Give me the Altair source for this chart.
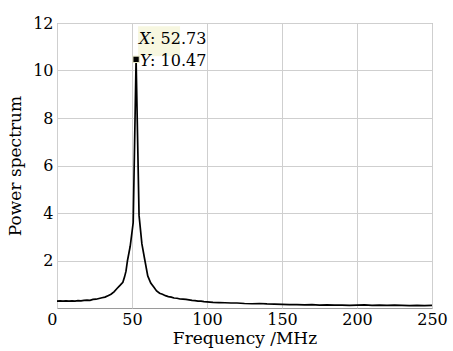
import altair as alt
import pandas as pd

freq = [0, 2, 4, 6, 8, 10, 12, 14, 16, 18, 20, 22, 24, 26, 28, 30, 32, 34, 36, 38,
        40, 42, 43.9, 45, 46, 47, 48.8, 50.8, 52.73, 54.7, 56.6, 58.6, 60.5, 62.5,
        64.5, 66.4, 68.4, 70.3, 72.3, 74.2, 76.2, 78, 80, 82, 84, 86, 88, 90, 92, 94,
        96, 98, 100, 104, 108, 112, 116, 120, 125, 130, 135, 140, 145, 150, 155, 160,
        165, 170, 175, 180, 185, 190, 195, 200, 205, 210, 215, 220, 225, 230, 235,
        240, 245, 250]
power = [0.29, 0.30, 0.29, 0.30, 0.29, 0.30, 0.29, 0.31, 0.30, 0.32, 0.33, 0.32, 0.36,
         0.37, 0.40, 0.43, 0.46, 0.52, 0.58, 0.68, 0.82, 0.95, 1.08, 1.30, 1.55, 2.00,
         2.60, 3.60, 10.47, 3.90, 2.70, 2.00, 1.35, 1.05, 0.88, 0.72, 0.62, 0.58, 0.52,
         0.48, 0.46, 0.42, 0.41, 0.38, 0.37, 0.36, 0.34, 0.32, 0.31, 0.29, 0.29, 0.27,
         0.26, 0.24, 0.23, 0.22, 0.21, 0.21, 0.19, 0.18, 0.19, 0.17, 0.16, 0.15, 0.14,
         0.14, 0.13, 0.14, 0.12, 0.13, 0.12, 0.12, 0.11, 0.12, 0.13, 0.11, 0.12, 0.11,
         0.12, 0.11, 0.10, 0.11, 0.10, 0.11]

peak_x = [52.73]
peak_y = [10.47]

x_ticks = [0, 50, 100, 150, 200, 250]
y_ticks = [2, 4, 6, 8, 10, 12]

df = pd.DataFrame({"f": freq, "p": power})
pk = pd.DataFrame({"f": peak_x, "p": peak_y})

FONT = "DejaVu Serif"
FS = 16

xs = alt.X("f:Q", scale=alt.Scale(domain=[0, 250], nice=False, zero=False),
           axis=alt.Axis(values=x_ticks, title="Frequency /MHz",
                         labelAlign=alt.ExprRef(expr="datum.value == 0 ? 'right' : 'center'"),
                         labelPadding=3, titlePadding=3))
ys = alt.Y("p:Q", scale=alt.Scale(domain=[0, 12], nice=False),
           axis=alt.Axis(values=y_ticks, title="Power spectrum", labelPadding=4,
                         titlePadding=8))

line = alt.Chart(df).mark_line(color="black", strokeWidth=1.7).encode(x=xs, y=ys)

box = alt.Chart(pk).mark_rect(color="#f7f7e0", xOffset=2, x2Offset=44,
                              yOffset=-33, y2Offset=-3).encode(
    x="f:Q", x2="f:Q", y="p:Q", y2="p:Q")

marker = alt.Chart(pk).mark_square(size=40, color="black", stroke="#e8e8c8",
                                   strokeWidth=1, opacity=1).encode(x="f:Q", y="p:Q")

tx_x = alt.Chart(pk).mark_text(text="X", font=FONT, fontStyle="italic", fontSize=FS,
                               align="left", baseline="alphabetic", dx=3, dy=-15,
                               color="black").encode(x="f:Q", y="p:Q")
tx_xv = alt.Chart(pk).transform_calculate(
    lbl="': ' + format(datum.f, '.2f')").mark_text(
    font=FONT, fontSize=FS, align="left", baseline="alphabetic", dx=14, dy=-15,
    color="black").encode(x="f:Q", y="p:Q", text="lbl:N")
tx_y = alt.Chart(pk).mark_text(text="Y", font=FONT, fontStyle="italic", fontSize=FS,
                               align="left", baseline="alphabetic", dx=4, dy=7,
                               color="black").encode(x="f:Q", y="p:Q")
tx_yv = alt.Chart(pk).transform_calculate(
    lbl="': ' + format(datum.p, '.2f')").mark_text(
    font=FONT, fontSize=FS, align="left", baseline="alphabetic", dx=14, dy=7,
    color="black").encode(x="f:Q", y="p:Q", text="lbl:N")

chart = alt.layer(line, box, marker, tx_x, tx_xv, tx_y, tx_yv).properties(
    width=375, height=285,
    autosize=alt.AutoSizeParams(type="none"),
    padding={"left": 57, "top": 23, "right": 21, "bottom": 43},
    background="white",
).configure_view(stroke="#9a9a9a", strokeWidth=1).configure_axis(
    grid=True, gridColor="#cfcfcf", gridWidth=1, domain=False, ticks=False,
    labelFont=FONT, labelFontSize=FS, labelColor="black",
    titleFont=FONT, titleFontSize=17, titleFontWeight="normal", titleColor="black",
)

chart.save("out.html", embed_options={"renderer": "svg", "actions": False})
